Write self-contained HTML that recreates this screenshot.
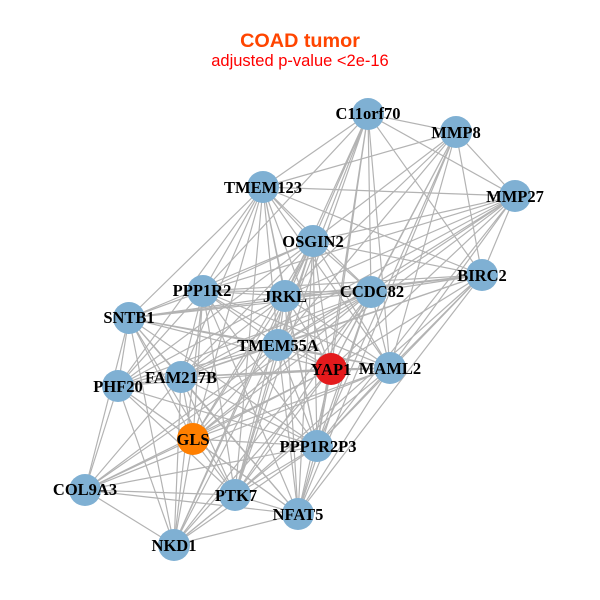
<!DOCTYPE html>
<html><head><meta charset="utf-8"><style>html,body{margin:0;padding:0;background:#fff}svg{display:block}
.n{font:bold 16.5px "Liberation Serif",serif;fill:#000;text-anchor:middle}</style></head><body>
<svg width="600" height="600" viewBox="0 0 600 600" xmlns="http://www.w3.org/2000/svg">
<rect width="600" height="600" fill="#fff"/>
<text x="300" y="47" text-anchor="middle" font-family="Liberation Sans" font-weight="bold" font-size="19.8" fill="#ff4500">COAD tumor</text>
<text x="300" y="66" text-anchor="middle" font-family="Liberation Sans" font-size="16.5" fill="#ff0000">adjusted p-value &lt;2e-16</text>
<g fill="none" stroke="#b3b3b3" stroke-width="1.2">
<path d="M368 114L456 132M368 114L515 196M368 114L482 275M368 114L263 187M368 114L313 241M368 114L371 292M368 114L285 296M368 114L278 345M368 114L331 369M368 114L390 368M368 114L317 446M368 114L235 495M368 114L203 291"/>
<path d="M456 132L515 196M456 132L482 275M456 132L263 187M456 132L313 241M456 132L371 292M456 132L285 296M456 132L278 345M456 132L331 369M456 132L390 368M456 132L317 446M456 132L298 514"/>
<path d="M515 196L482 275M515 196L263 187M515 196L313 241M515 196L371 292M515 196L285 296M515 196L278 345M515 196L331 369M515 196L390 368M515 196L181 377M515 196L193 439M515 196L317 446M515 196L203 291"/>
<path d="M482 275L263 187M482 275L313 241M482 275L371 292M482 275L285 296M482 275L203 291M482 275L129 318M482 275L278 345M482 275L331 369M482 275L390 368M482 275L181 377M482 275L317 446M482 275L298 514M482 275L235 495"/>
<path d="M263 187L313 241M263 187L371 292M263 187L285 296M263 187L203 291M263 187L129 318M263 187L278 345M263 187L331 369M263 187L390 368M263 187L181 377M263 187L118 386M263 187L193 439M263 187L317 446M263 187L235 495"/>
<path d="M313 241L371 292M313 241L285 296M313 241L203 291M313 241L129 318M313 241L278 345M313 241L331 369M313 241L390 368M313 241L181 377M313 241L118 386M313 241L193 439M313 241L317 446M313 241L235 495M313 241L298 514M313 241L174 545"/>
<path d="M371 292L285 296M371 292L203 291M371 292L129 318M371 292L278 345M371 292L331 369M371 292L390 368M371 292L181 377M371 292L118 386M371 292L193 439M371 292L317 446M371 292L85 490M371 292L235 495M371 292L298 514M371 292L174 545"/>
<path d="M285 296L203 291M285 296L129 318M285 296L278 345M285 296L331 369M285 296L390 368M285 296L181 377M285 296L118 386M285 296L193 439M285 296L317 446M285 296L235 495M285 296L298 514M285 296L174 545"/>
<path d="M203 291L129 318M203 291L278 345M203 291L331 369M203 291L390 368M203 291L181 377M203 291L118 386M203 291L193 439M203 291L317 446M203 291L235 495M203 291L298 514M203 291L174 545"/>
<path d="M129 318L278 345M129 318L331 369M129 318L390 368M129 318L181 377M129 318L118 386M129 318L193 439M129 318L317 446M129 318L85 490M129 318L235 495M129 318L298 514M129 318L174 545"/>
<path d="M278 345L331 369M278 345L390 368M278 345L181 377M278 345L118 386M278 345L193 439M278 345L317 446M278 345L85 490M278 345L235 495M278 345L298 514M278 345L174 545"/>
<path d="M331 369L390 368M331 369L181 377M331 369L118 386M331 369L193 439M331 369L317 446M331 369L85 490M331 369L235 495M331 369L298 514M331 369L174 545"/>
<path d="M390 368L181 377M390 368L193 439M390 368L317 446M390 368L85 490M390 368L235 495M390 368L298 514M390 368L174 545"/>
<path d="M181 377L118 386M181 377L193 439M181 377L317 446M181 377L85 490M181 377L235 495M181 377L298 514M181 377L174 545"/>
<path d="M118 386L193 439M118 386L317 446M118 386L85 490M118 386L235 495M118 386L298 514M118 386L174 545"/>
<path d="M193 439L317 446M193 439L85 490M193 439L235 495M193 439L298 514M193 439L174 545"/>
<path d="M317 446L85 490M317 446L235 495M317 446L298 514M317 446L174 545"/>
<path d="M85 490L235 495M85 490L298 514M85 490L174 545M235 495L298 514M235 495L174 545M298 514L174 545"/>
</g>
<g fill="#7fb0d3">
<circle cx="368" cy="114" r="16"/><circle cx="456" cy="132" r="16"/><circle cx="515" cy="196" r="16"/><circle cx="482" cy="275" r="16"/><circle cx="263" cy="187" r="16"/><circle cx="313" cy="241" r="16"/><circle cx="371" cy="292" r="16"/><circle cx="285" cy="296" r="16"/><circle cx="203" cy="291" r="16"/><circle cx="129" cy="318" r="16"/><circle cx="278" cy="345" r="16"/><circle cx="390" cy="368" r="16"/><circle cx="181" cy="377" r="16"/><circle cx="118" cy="386" r="16"/><circle cx="317" cy="446" r="16"/><circle cx="85" cy="490" r="16"/><circle cx="235" cy="495" r="16"/><circle cx="298" cy="514" r="16"/><circle cx="174" cy="545" r="16"/>
<circle cx="331" cy="369" r="16" fill="#e41a1c"/><circle cx="193" cy="439" r="16" fill="#ff7f00"/>
</g>
<g class="n">
<text class="n" x="368" y="119">C11orf70</text><text class="n" x="456" y="138">MMP8</text><text class="n" x="515" y="202">MMP27</text><text class="n" x="482" y="281">BIRC2</text><text class="n" x="263" y="193">TMEM123</text><text class="n" x="313" y="247">OSGIN2</text><text class="n" x="372" y="297">CCDC82</text><text class="n" x="285" y="302">JRKL</text><text class="n" x="202" y="296">PPP1R2</text><text class="n" x="129" y="323">SNTB1</text><text class="n" x="278" y="351">TMEM55A</text><text class="n" x="331" y="375">YAP1</text><text class="n" x="390" y="374">MAML2</text><text class="n" x="181" y="383">FAM217B</text><text class="n" x="118" y="392">PHF20</text><text class="n" x="193" y="445">GLS</text><text class="n" x="318" y="452">PPP1R2P3</text><text class="n" x="85" y="495">COL9A3</text><text class="n" x="236" y="501">PTK7</text><text class="n" x="298" y="520">NFAT5</text><text class="n" x="174" y="551">NKD1</text>
</g>
</svg>
</body></html>
